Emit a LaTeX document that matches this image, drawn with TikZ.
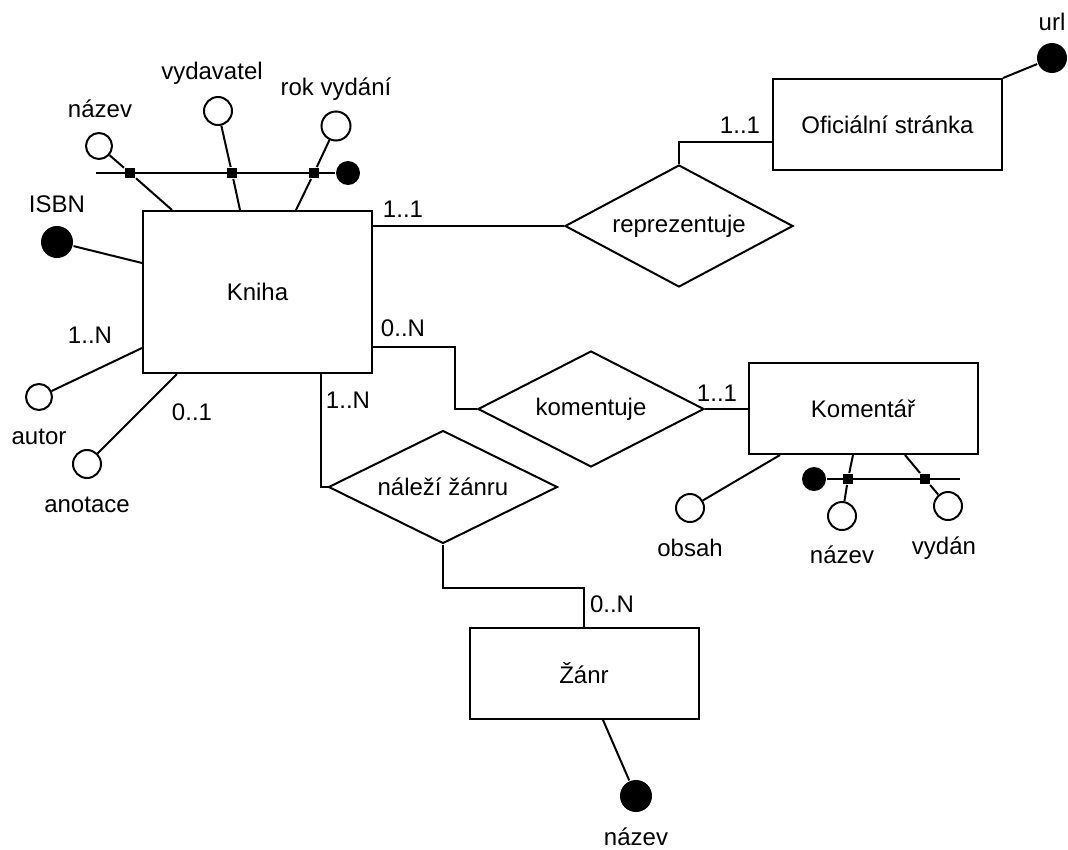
\documentclass[tikz,border=0pt]{standalone}
\usepackage{fontspec}
\setmainfont{Liberation Sans}
\usetikzlibrary{shapes.geometric}

\begin{document}
\begin{tikzpicture}[x=1pt, y=-1pt, line width=2pt,
	font=\fontsize{24}{28}\selectfont,
	entity/.style={draw, rectangle, minimum width=229pt, minimum height=91pt, inner sep=0pt},
	relation/.style={draw, diamond, aspect=1.9, inner sep=0pt, minimum width=228pt, minimum height=116pt},
	attr/.style={draw, circle, fill=white, minimum size=26pt, inner sep=0pt},
	keyattr/.style={circle, fill=black, minimum size=32pt, inner sep=0pt},
	joint/.style={rectangle, fill=black, minimum size=10pt, inner sep=0pt}]
	\useasboundingbox (0,0) rectangle (1068,849);
	% entities
	\node[entity, minimum height=162pt] (kniha) at (257.5,292) {Kniha};
	\node[entity] (oficialni) at (887.5,124.5) {Oficiální stránka};
	\node[entity] (komentar) at (863,408.5) {Komentář};
	\node[entity] (zanr) at (584,673.5) {Žánr};
	% relations
	\node[relation, minimum height=122pt] (reprezentuje) at (679,226) {reprezentuje};
	\node[relation, minimum width=226pt] (komentuje) at (591,409) {komentuje};
	\node[relation, minimum width=229pt, minimum height=113pt] (nalezi) at (443,487) {náleží žánru};
	\draw (kniha.east |- reprezentuje.west) -- (reprezentuje.west);
	\draw (reprezentuje.north) |- ([yshift=-17.5pt]oficialni.west);
	\draw ([yshift=-55pt]kniha.east) -- ++(82,0) |- (komentuje.west);
	\draw (komentuje.east) -- (komentuje.east -| komentar.west);
	\draw ([xshift=63.5pt]kniha.south) |- (nalezi.west);
	\draw (nalezi.south) -- ++(0,43) -| (zanr.north);
	\node (k1) at (403,209) {1..1};
	\node (k2) at (740,125) {1..1};
	\node (k3) at (403,328) {0..N};
	\node (k4) at (717,393) {1..1};
	\node (k5) at (348,400) {1..N};
	\node (k6) at (612,604) {0..N};
	% Kniha attributes
	\coordinate (klicstart) at (96,173);
	\node[keyattr, minimum size=24pt] (klic) at (348,173) {};
	\draw (klicstart) -- (klic);
	\node[joint] (j1) at (130,173) {};
	\node[joint] (j2) at (232,173) {};
	\node[joint] (j3) at (314,173) {};
	\node[attr] (nazev) at (99,146) {};
	\node[attr, minimum size=28pt] (vydavatel) at (218,111) {};
	\node[attr, minimum size=29pt] (rok) at (336,126) {};
	\draw (nazev) -- (j1) -- ([xshift=-85.5pt]kniha.north);
	\draw (vydavatel) -- (j2) -- ([xshift=-17.5pt]kniha.north);
	\draw (rok) -- (j3) -- ([xshift=38.5pt]kniha.north);
	\node (lnazev) at (100,109) {název};
	\node (lvydavatel) at (212,73) {vydavatel};
	\node (lrok) at (336,89) {rok vydání};
	\node[keyattr] (isbn) at (57,242) {};
	\draw (isbn) -- ([yshift=29pt]kniha.west);
	\node (lisbn) at (57,204) {ISBN};
	\node[attr] (autor) at (39,397) {};
	\draw (autor) -- ([yshift=-56pt]kniha.west);
	\node (lautor) at (39,437) {autor};
	\node (k7) at (90,335) {1..N};
	\node[attr, minimum size=28pt] (anotace) at (87,464) {};
	\draw (anotace) -- ([xshift=-80.5pt]kniha.south);
	\node (lanotace) at (87,505) {anotace};
	\node (k8) at (192,412) {0..1};
	% Oficialni stranka attributes
	\node[keyattr, minimum size=30pt] (url) at (1052,58) {};
	\draw (oficialni.north east) -- (url);
	\node (lurl) at (1052,22) {url};
	% Komentar attributes
	\node[attr, minimum size=28pt] (obsah) at (690,508) {};
	\draw (obsah) -- ([xshift=-83pt]komentar.south);
	\node (lobsah) at (690,548) {obsah};
	\node[keyattr, minimum size=24pt] (klic2) at (814,479) {};
	\coordinate (klic2end) at (960,479);
	\draw (klic2) -- (klic2end);
	\node[joint] (j4) at (848,479) {};
	\node[joint] (j5) at (925,479) {};
	\node[attr, minimum size=28pt] (nazev2) at (842,516) {};
	\node[attr, minimum size=28pt] (vydan) at (948,506) {};
	\draw (nazev2) -- (j4) -- ([xshift=-10pt]komentar.south);
	\draw (vydan) -- (j5) -- ([xshift=42pt]komentar.south);
	\node (lnazev2) at (842,555) {název};
	\node (lvydan) at (944,548) {vydán};
	% Zanr attributes
	\node[keyattr] (nazev3) at (636,796) {};
	\draw ([xshift=19pt]zanr.south) -- (nazev3);
	\node (lnazev3) at (636,837) {název};
\end{tikzpicture}
\end{document}
